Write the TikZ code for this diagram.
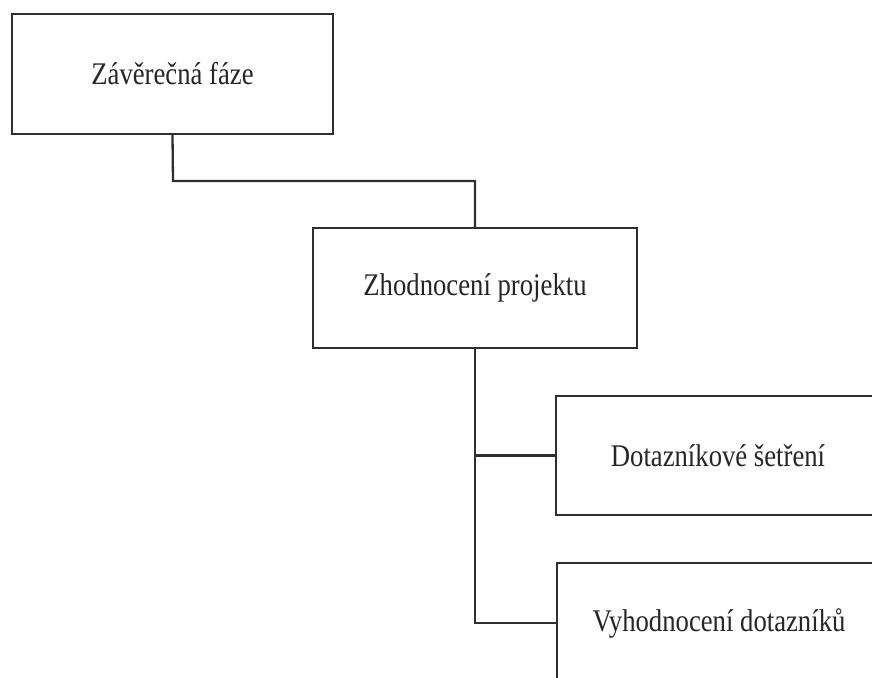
\documentclass[tikz,border=0pt]{standalone}
\usepackage{fontspec}
\usepackage{graphicx}
\setmainfont{Liberation Serif}
\begin{document}
\begin{tikzpicture}[x=1pt,y=-1pt,
  box/.style={draw=black!82, line width=2.3pt, rectangle, inner sep=0pt,
    minimum width=322pt, minimum height=120pt, text=black!85,
    font=\fontsize{26.7}{30}\selectfont},
  conn/.style={draw=black!82, line width=2.3pt}]
\useasboundingbox (0,0) rectangle (872,677);
\clip (0,0) rectangle (872,677);
\fill[white] (0,0) rectangle (872,677);
\node[box, minimum width=321pt] (b1) at (172.5,74) {\scalebox{1}[1.18]{Závěrečná fáze}};
\node[box, minimum width=324pt, minimum height=120pt] (b2) at (475,288) {\scalebox{1}[1.18]{Zhodnocení projektu}};
\node[box, minimum width=324pt, minimum height=119pt] (b3) at (718,455.5) {\scalebox{1}[1.18]{Dotazníkové šetření}};
\node[box, minimum width=324pt] (b4) at (719,623) {\scalebox{1}[1.18]{Vyhodnocení dotazníků}};
\coordinate (c1) at (173,181);
\draw[conn] (b1.south) -- (c1) -| (b2.north);
\draw[conn] (b2.south) |- (b4.west);
\draw[conn] (b2.south |- b3.west) -- (b3.west);
\end{tikzpicture}
\end{document}
